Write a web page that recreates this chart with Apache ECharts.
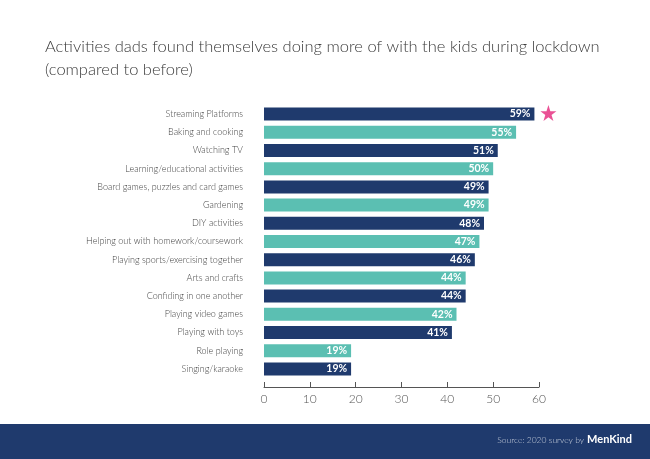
<!DOCTYPE html>
<html><head><meta charset="utf-8">
<script src="https://cdn.jsdelivr.net/npm/echarts@6/dist/echarts.min.js"></script>
<style>html,body{margin:0;padding:0;background:#fff}#c{width:650px;height:459px}</style>
</head><body><div id="c"></div>
<script>
const categories = ["Streaming Platforms","Baking and cooking","Watching TV","Learning/educational activities","Board games, puzzles and card games","Gardening","DIY activities","Helping out with homework/coursework","Playing sports/exercising together","Arts and crafts","Confiding in one another","Playing video games","Playing with toys","Role playing","Singing/karaoke"];
const values = [59,55,51,50,49,49,48,47,46,44,44,42,41,19,19];
const xTicks = [0,10,20,30,40,50,60];
const titleLines = ["Activities dads found themselves doing more of with the kids during lockdown","(compared to before)"];
const sourceText = "Source: 2020 survey by";
const brand = "MenKind";

const NAVY = '#1f3a6d', TEAL = '#5bbfb2', PINK = '#e5267b';
const chart = echarts.init(document.getElementById('c'), null, {renderer:'canvas'});
const topIdx = values.indexOf(Math.max(...values));
chart.setOption({
  animation:false,
  backgroundColor:'#fff',
  title:{text:titleLines.join('\n'), left:40, top:30,
    textStyle:{fontFamily:'Lato', fontWeight:300, fontSize:16.5, color:'#3a3a3a', lineHeight:23}},
  grid:{left:264, right:111, top:105, height:273},
  xAxis:{type:'value', min:xTicks[0], max:xTicks[xTicks.length-1], interval:10, offset:9,
    axisLine:{show:true, lineStyle:{color:'#555', width:1}},
    axisTick:{show:true, inside:true, length:5, lineStyle:{color:'#555'}},
    splitLine:{show:false},
    axisLabel:{color:'#555', fontFamily:'Lato', fontWeight:300, fontSize:12, margin:6}},
  yAxis:{type:'category', data:categories, inverse:true,
    axisLine:{show:false}, axisTick:{show:false},
    axisLabel:{color:'#444', fontFamily:'Lato', fontWeight:300, fontSize:9, margin:21}},
  series:[{type:'bar', data:values, barWidth:13,
    itemStyle:{color:p=>p.dataIndex%2===0?NAVY:TEAL},
    label:{show:true, position:'insideRight', formatter:'{c}%', color:'#fff',
      fontFamily:'Lato', fontWeight:'bold', fontSize:10.5, distance:4}},
   {type:'scatter', data:[[values[topIdx], categories[topIdx]]], symbol:'path://M50,0 L61.8,35.1 L98.9,35.1 L69,57.3 L80.3,92.7 L50,71 L19.7,92.7 L31,57.3 L1.1,35.1 L38.2,35.1 Z',
    symbolSize:16, symbolOffset:[14,-1], itemStyle:{color:PINK}, z:5, silent:true}
  ],
  graphic:[
    {type:'rect', shape:{x:0,y:424,width:650,height:35}, style:{fill:NAVY}},
    {type:'text', right:66, top:436, style:{text:sourceText, fill:'#c8cfdc', font:'300 8.5px Lato'}},
    {type:'text', right:18, top:434, style:{text:brand, fill:'#fff', font:'bold 11px Lato'}}
  ]
});
</script></body></html>
